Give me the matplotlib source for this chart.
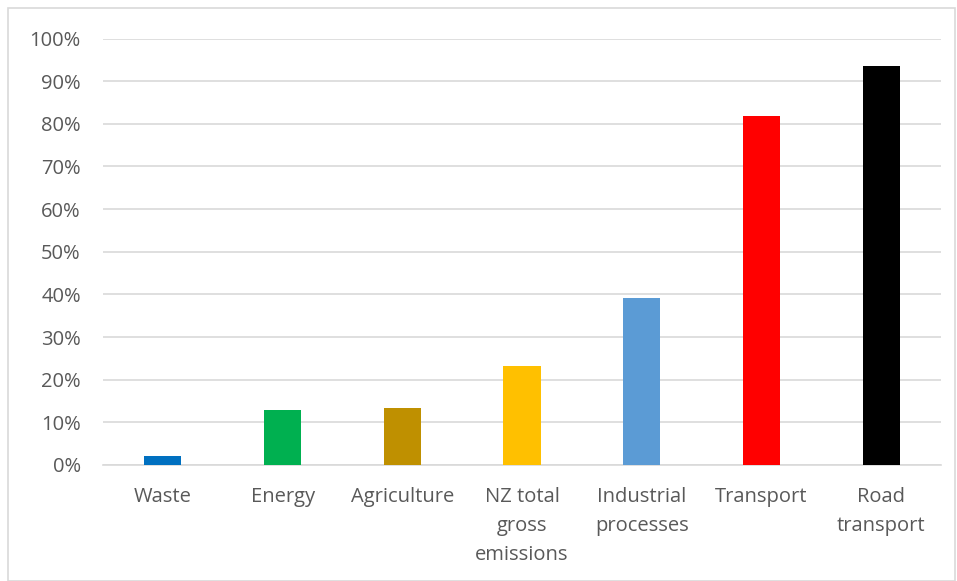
import matplotlib.pyplot as plt
from matplotlib.patches import Rectangle
from matplotlib.ticker import PercentFormatter

categories = ["Waste", "Energy", "Agriculture", "NZ total\ngross\nemissions",
              "Industrial\nprocesses", "Transport", "Road\ntransport"]
values = [2.0, 12.8, 13.4, 23.2, 39.2, 81.8, 93.5]
colors = ["#0070C0", "#00B050", "#BF9000", "#FFC000", "#5B9BD5", "#FF0000", "#000000"]

plt.rcParams["font.family"] = ["Open Sans", "DejaVu Sans"]

fig = plt.figure(figsize=(9.57, 5.81), dpi=100)
W, H = 957, 581
ax = fig.add_axes([103 / W, 116 / H, (941 - 103) / W, (465 - 38.5) / H])

ax.bar(range(len(values)), values, width=0.31, color=colors, zorder=3)

ax.set_xlim(-0.5, len(values) - 0.5)
ax.set_ylim(0, 100)
ax.set_yticks(range(0, 101, 10))
ax.yaxis.set_major_formatter(PercentFormatter(decimals=0))
ax.set_xticks(range(len(values)))
ax.set_xticklabels(categories, linespacing=1.58)

ax.grid(axis="y", color="#D9D9D9", linewidth=1.2, zorder=0)
for s in ["top", "right", "left"]:
    ax.spines[s].set_visible(False)
ax.spines["bottom"].set_color("#D9D9D9")
ax.spines["bottom"].set_linewidth(1.2)
ax.tick_params(axis="both", length=0, colors="#595959", labelsize=14.5)
ax.tick_params(axis="y", pad=16)
ax.tick_params(axis="x", pad=16)

fig.patches.append(Rectangle((8 / W, 0), (955 - 8) / W, (581 - 8) / H,
                             transform=fig.transFigure, fill=False,
                             edgecolor="#D9D9D9", linewidth=1.2))

fig.savefig("out.png", dpi=100)
